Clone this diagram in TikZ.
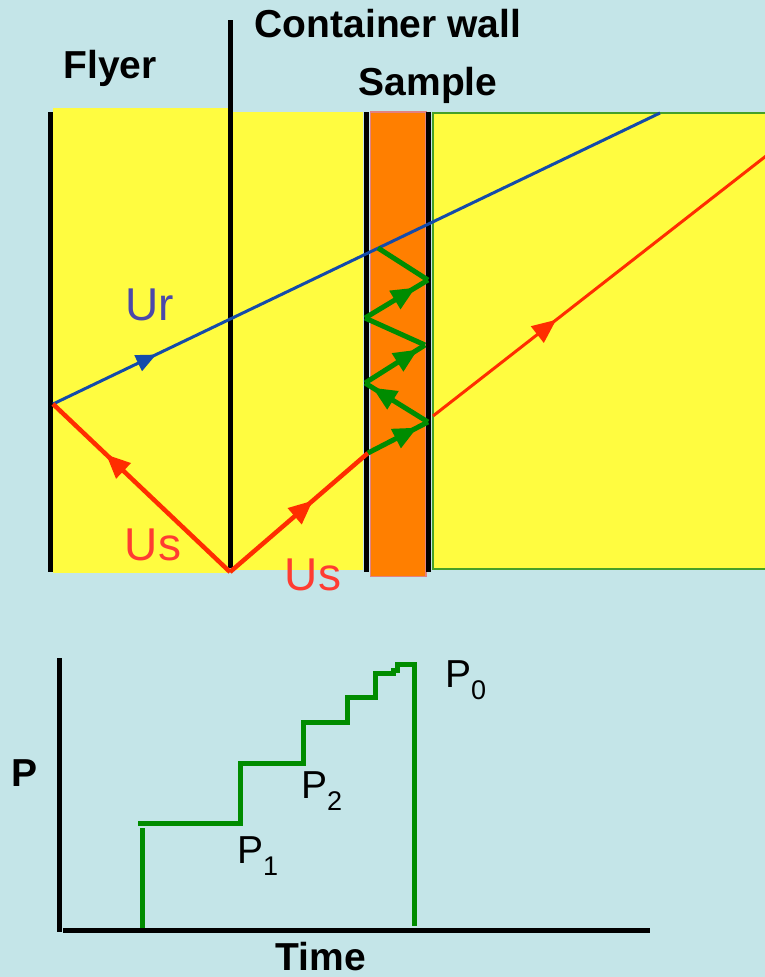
\documentclass[tikz,border=0pt]{standalone}
\usepackage{fontspec}
\setmainfont{Liberation Sans}
\usetikzlibrary{arrows.meta,decorations.markings}
\definecolor{bgc}{RGB}{196,229,232}
\definecolor{yel}{RGB}{255,252,64}
\definecolor{org}{RGB}{255,127,0}
\definecolor{orgb}{RGB}{225,130,130}
\definecolor{blu}{RGB}{20,75,170}
\definecolor{urc}{RGB}{75,72,170}
\definecolor{redl}{RGB}{255,45,0}
\definecolor{usc}{RGB}{255,60,50}
\definecolor{grn}{RGB}{0,140,0}
\definecolor{grb}{RGB}{70,160,40}
\tikzset{
  title/.style={font=\fontsize{39}{40}\selectfont\bfseries, anchor=base, inner sep=0pt},
  wave/.style={font=\fontsize{46}{48}\selectfont, anchor=base, inner sep=0pt},
  plabel/.style={font=\fontsize{39}{40}\selectfont, anchor=base west, inner sep=0pt},
  wall/.style={line width=5pt, black},
  midarrow/.style 2 args={postaction={decorate, decoration={markings,
      mark=at position #1 with {\arrow{Triangle[length=#2pt,width=0.85*#2pt]}}}}},
  blueray/.style={blu, line width=3pt},
  redray/.style={redl, line width=4.5pt},
  redthin/.style={redl, line width=3pt},
  greenray/.style={grn, line width=5pt, line join=miter},
  axis/.style={black, line width=5pt},
  stair/.style={grn, line width=5pt, line join=miter}
}
\newcommand{\sub}[2]{#1{\fontsize{27}{28}\selectfont\raisebox{-12pt}{#2}}}
\begin{document}
\begin{tikzpicture}[x=1pt,y=-1pt]
\useasboundingbox (0,0) rectangle (765,977);
\fill[bgc] (0,0) rectangle (765,977);
% regions
\fill[yel] (53,108) rectangle (228,573);
\fill[yel] (232,112) rectangle (363,570);
\filldraw[fill=org, draw=orgb, line width=1.2pt] (370.5,112) rectangle (426,576.5);
\filldraw[fill=yel, draw=grb, line width=2pt] (433,113) rectangle (767,569);
% walls
\draw[wall] (50,112) -- (50,572);
\draw[black, line width=4.5pt] (230.5,20) -- (230.5,568);
\draw[wall] (366,112) -- (366,572);
\draw[wall] (428.5,112) -- (428.5,572);
% points
\coordinate (A) at (53,404);
\coordinate (B) at (230,572);
\coordinate (C) at (368,453);
\coordinate (Bend) at (660,113);
\coordinate (R1) at (433,416);
\coordinate (R2) at (766,156);
\coordinate (g1) at (428,422);
\coordinate (g2) at (365,383);
\coordinate (g3) at (425,345);
\coordinate (g4) at (365,318);
\coordinate (g5) at (428,280);
\coordinate (g6) at (378,248);
% rays
\draw[blueray, midarrow={0.17}{20}] (A) -- (Bend);
\draw[redray, midarrow={0.7}{24}] (B) -- (A);
\draw[redray, midarrow={0.6}{24}] (B) -- (C);
\draw[redthin, midarrow={0.37}{24}] (R1) -- (R2);
\draw[greenray, midarrow={0.82}{24}] (C) -- (g1);
\draw[greenray, midarrow={0.88}{24}] (g1) -- (g2);
\draw[greenray, midarrow={0.88}{24}] (g2) -- (g3);
\draw[greenray] (g3) -- (g4);
\draw[greenray, midarrow={0.8}{24}] (g4) -- (g5);
\draw[greenray] (g5) -- (g6);
% titles
\node[title] (flyer) at (110,78) {Flyer};
\node[title] (cwall) at (388,37) {Container wall};
\node[title] (sample) at (428,95) {Sample};
\node[wave, text=urc] (ur) at (150,320) {Ur};
\node[wave, text=usc] (us1) at (153,560) {Us};
\node[wave, text=usc] (us2) at (313,590) {Us};
% graph
\coordinate (ytop) at (59,658);
\coordinate (xend) at (650,930);
\draw[axis] (ytop) -- (59,932);
\draw[axis] (63,930) -- (xend);
\draw[stair] (142,928) -- (142,828);
\draw[stair] (138,823) -- (240,823) -- (240,763) -- (303,763) -- (303,722) -- (347,722)
  -- (347,697) -- (375,697) -- (375,673) -- (393,673) -- (393,670) -- (397,670) -- (397,664)
  -- (414,664) -- (414,926);
\node[title] (P) at (25,786) {P};
\node[title] (time) at (321,970) {Time};
\node[plabel] (p1) at (237,863) {\sub{P}{1}};
\node[plabel] (p2) at (301,798) {\sub{P}{2}};
\node[plabel] (p0) at (445,687) {\sub{P}{0}};
\end{tikzpicture}
\end{document}
